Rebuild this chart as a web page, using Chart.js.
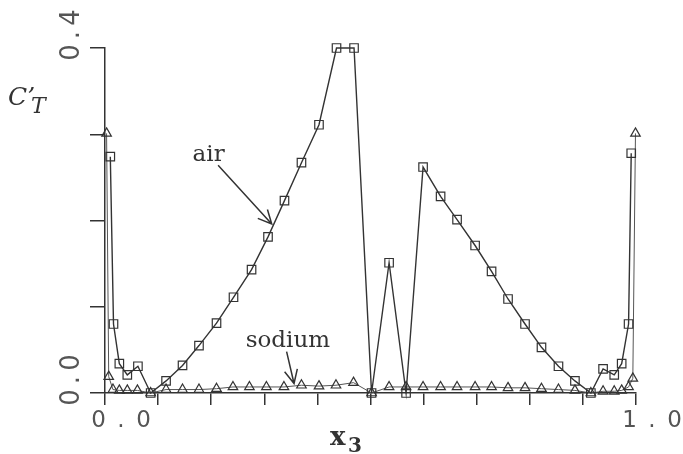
<!DOCTYPE html>
<html>
<head>
<meta charset="utf-8">
<script src="https://cdn.jsdelivr.net/npm/chart.js@4/dist/chart.umd.min.js"></script>
<style>
  html, body { margin: 0; padding: 0; background: #fff; }
  #chart { display: block; }
</style>
</head>
<body>
<canvas id="chart" width="683" height="454"></canvas>
<script>
// mesh positions (x3) and C'_T values
const airX = [0.010, 0.016, 0.027, 0.042, 0.062, 0.086, 0.115, 0.146, 0.177, 0.210, 0.242, 0.276,
  0.307, 0.338, 0.370, 0.403, 0.436, 0.469, 0.502, 0.535, 0.567, 0.599, 0.632, 0.663, 0.697,
  0.728, 0.759, 0.791, 0.822, 0.854, 0.885, 0.915, 0.938, 0.959, 0.973, 0.986, 0.991];
const airY = [0.274, 0.080, 0.034, 0.021, 0.031, 0.000, 0.014, 0.032, 0.055, 0.081, 0.111, 0.143,
  0.181, 0.223, 0.267, 0.311, 0.400, 0.400, 0.000, 0.151, 0.000, 0.262, 0.228, 0.201, 0.171,
  0.141, 0.109, 0.080, 0.053, 0.031, 0.014, 0.000, 0.028, 0.021, 0.034, 0.080, 0.278];

const sodiumX = [0.003, 0.007, 0.015, 0.027, 0.042, 0.061, 0.086, 0.115, 0.146, 0.177, 0.210, 0.241,
  0.272, 0.304, 0.337, 0.370, 0.403, 0.435, 0.468, 0.502, 0.535, 0.567, 0.599, 0.632, 0.663,
  0.697, 0.728, 0.759, 0.791, 0.822, 0.854, 0.885, 0.915, 0.938, 0.959, 0.973, 0.986, 0.994, 0.999];
const sodiumY = [0.301, 0.019, 0.004, 0.003, 0.003, 0.003, 0.000, 0.004, 0.004, 0.004, 0.005, 0.007,
  0.007, 0.007, 0.007, 0.009, 0.008, 0.009, 0.012, 0.000, 0.007, 0.007, 0.007, 0.007, 0.007,
  0.007, 0.007, 0.006, 0.006, 0.005, 0.004, 0.003, 0.000, 0.002, 0.002, 0.003, 0.007, 0.017, 0.301];

const xTickValues = [0, 1];
const xTickLabels = ['0.0', '1.0'];
const yTickValues = [0, 0.4];
const yTickLabels = ['0.0', '0.4'];

const ink = '#333';
const tickInk = '#555';

function toPoints(xs, ys) {
  return xs.map((x, i) => ({ x: x, y: ys[i] }));
}

// old plotter labels are widely spaced: "0 . 0"
function tickText(values, labels, gap) {
  return (value) => {
    const i = values.findIndex((v) => Math.abs(v - value) < 1e-9);
    return i < 0 ? '' : labels[i].split('').join(gap);
  };
}

function arrow(ctx, x1, y1, x2, y2) {
  const a = Math.atan2(y2 - y1, x2 - x1);
  const len = 15;
  const spread = 0.45;
  ctx.beginPath();
  ctx.moveTo(x1, y1);
  ctx.lineTo(x2, y2);
  ctx.moveTo(x2 - len * Math.cos(a - spread), y2 - len * Math.sin(a - spread));
  ctx.lineTo(x2, y2);
  ctx.lineTo(x2 - len * Math.cos(a + spread), y2 - len * Math.sin(a + spread));
  ctx.stroke();
}

// curve labels, arrows and axis titles
const notes = {
  id: 'notes',
  afterDraw(chart) {
    const { ctx } = chart;
    const x = chart.scales.x;
    const y = chart.scales.y;
    const px = (v) => x.getPixelForValue(v);
    const py = (v) => y.getPixelForValue(v);

    ctx.save();
    ctx.fillStyle = ink;
    ctx.strokeStyle = ink;
    ctx.lineWidth = 1.5;
    ctx.textBaseline = 'alphabetic';
    ctx.textAlign = 'left';

    ctx.font = '23px "DejaVu Serif"';
    ctx.fillText('air', px(0.165), py(0.269));
    arrow(ctx, px(0.213), py(0.264), px(0.314), py(0.196));

    ctx.fillText('sodium', px(0.265), py(0.053));
    arrow(ctx, px(0.342), py(0.048), px(0.356), py(0.011));

    // y title C'_T
    ctx.font = 'italic 25px "DejaVu Serif"';
    ctx.fillText('C\u2019', 8, 105);
    ctx.font = 'italic 22px "DejaVu Serif"';
    ctx.fillText('T', 31, 113);

    // x title x_3
    ctx.font = 'bold 26px "DejaVu Serif"';
    ctx.fillText('x', 330, 445);
    ctx.font = 'bold 20px "DejaVu Serif"';
    ctx.fillText('3', 348, 452);
    ctx.restore();
  }
};

new Chart(document.getElementById('chart'), {
  type: 'line',
  data: {
    datasets: [
      {
        label: 'air',
        data: toPoints(airX, airY),
        borderColor: ink,
        borderWidth: 1.4,
        pointStyle: 'rect',
        pointRadius: 6,
        pointBorderWidth: 1.2,
        pointBorderColor: ink,
        pointBackgroundColor: 'rgba(0,0,0,0)',
        tension: 0,
        clip: false
      },
      {
        label: 'sodium',
        data: toPoints(sodiumX, sodiumY),
        borderColor: '#555',
        borderWidth: 1,
        pointStyle: 'triangle',
        pointRadius: 5.5,
        pointBorderWidth: 1.2,
        pointBorderColor: ink,
        pointBackgroundColor: 'rgba(0,0,0,0)',
        tension: 0,
        clip: false
      }
    ]
  },
  options: {
    responsive: false,
    animation: false,
    devicePixelRatio: 1,
    layout: { padding: { left: 0, top: 48, right: 47, bottom: 0 } },
    plugins: {
      legend: { display: false },
      tooltip: { enabled: false }
    },
    scales: {
      x: {
        type: 'linear',
        min: 0,
        max: 1,
        afterFit: (scale) => { scale.height = 61; },
        border: { display: true, color: ink, width: 1.5 },
        grid: { display: true, drawOnChartArea: false, drawTicks: true, tickLength: 12, color: ink, lineWidth: 1.5 },
        ticks: {
          stepSize: 0.1,
          autoSkip: false,
          minRotation: 0,
          maxRotation: 0,
          padding: 2,
          labelOffset: 16,
          color: tickInk,
          font: { family: 'DejaVu Sans', size: 23 },
          callback: tickText(xTickValues, xTickLabels, '\u2002')
        }
      },
      y: {
        type: 'linear',
        min: 0,
        max: 0.4,
        afterFit: (scale) => { scale.width = 105; },
        border: { display: true, color: ink, width: 1.5 },
        grid: { display: true, drawOnChartArea: false, drawTicks: true, tickLength: 15, color: ink, lineWidth: 1.5 },
        ticks: {
          stepSize: 0.1,
          autoSkip: false,
          minRotation: 90,
          maxRotation: 90,
          crossAlign: 'center',
          padding: -8,
          labelOffset: -13,
          color: tickInk,
          font: { family: 'DejaVu Sans', size: 26 },
          callback: tickText(yTickValues, yTickLabels, '\u2009')
        }
      }
    }
  },
  plugins: [notes]
});
</script>
</body>
</html>
